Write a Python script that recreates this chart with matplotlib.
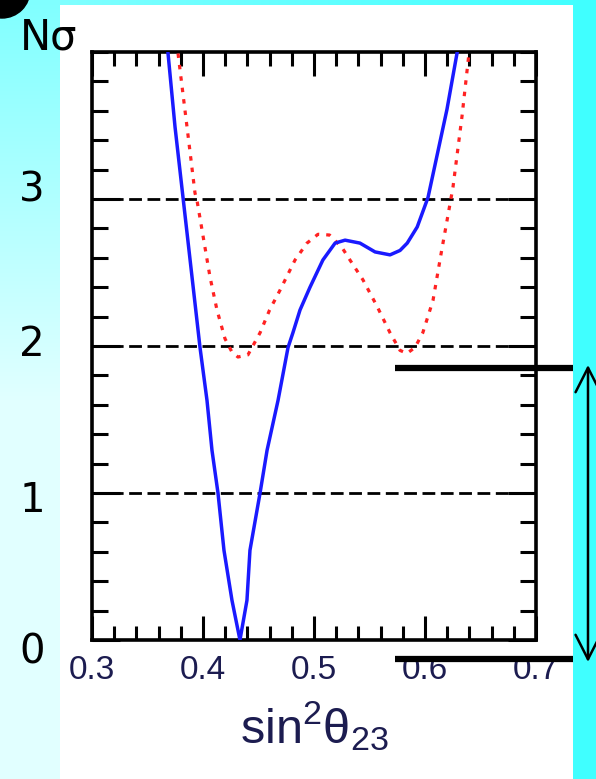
import numpy as np
import matplotlib
matplotlib.use('Agg')
import matplotlib.pyplot as plt
from matplotlib.patches import Circle
import matplotlib.transforms as mtrans

# ---- data ----
blue_x = [0.3685, 0.3748, 0.382, 0.3973, 0.4036, 0.4081, 0.4135, 0.4189, 0.4261, 0.4333,
          0.4396, 0.4423, 0.4514, 0.4577, 0.4676, 0.4766, 0.481, 0.4874, 0.4964, 0.508,
          0.519, 0.528, 0.5414, 0.555, 0.5685, 0.5775, 0.584, 0.593, 0.6027, 0.6198, 0.6288]
blue_y = [3.99, 3.49, 3.01, 1.99, 1.63, 1.29, 1.0, 0.61, 0.27, 0.0,
          0.27, 0.61, 1.0, 1.29, 1.63, 1.99, 2.09, 2.245, 2.40, 2.585,
          2.70, 2.72, 2.70, 2.64, 2.62, 2.65, 2.70, 2.81, 3.01, 3.61, 3.99]
red_x = [0.3775, 0.3856, 0.3928, 0.3946, 0.4063, 0.4126, 0.4198, 0.426, 0.4315, 0.4405,
         0.4514, 0.460, 0.4694, 0.4829, 0.4937, 0.5036, 0.514, 0.5252, 0.5324, 0.5441,
         0.5568, 0.5685, 0.5775, 0.5838, 0.591, 0.598, 0.6072, 0.615, 0.620, 0.6252,
         0.6333, 0.6396]
red_y = [3.99, 3.49, 3.04, 2.99, 2.47, 2.245, 2.05, 1.96, 1.925, 1.94,
         2.09, 2.245, 2.38, 2.585, 2.70, 2.76, 2.755, 2.67, 2.585, 2.45,
         2.27, 2.09, 1.97, 1.95, 1.99, 2.09, 2.31, 2.65, 2.86, 3.08,
         3.56, 3.99]
ref_levels = [1, 2, 3]
xticks = [0.3, 0.4, 0.5, 0.6, 0.7]
xtick_labels = ['0.3', '0.4', '0.5', '0.6', '0.7']
yticks = [0, 1, 2, 3]
ytick_labels = ['0', '1', '2', '3']
band_levels = [1.85, -0.13]
band_x = [0.573, 0.7333]

plt.rcParams['mathtext.fontset'] = 'custom'
plt.rcParams['mathtext.rm'] = 'Liberation Sans'
plt.rcParams['mathtext.it'] = 'Liberation Sans:italic'

W, H = 596, 779
fig = plt.figure(figsize=(W / 100, H / 100), dpi=100)

# ---- background ----
bg = fig.add_axes([0, 0, 1, 1], zorder=-10)
img = np.ones((H, W, 3))
yy = np.arange(H)[:, None]
r_left = np.clip(128 + (225 - 128) * yy / 400.0, 128, 225) / 255.0
img[:, :60, 0] = r_left
img[:5, 60:, 0] = (np.linspace(128, 64, W - 60) / 255.0)[None, :]
img[:, 573:, 0] = 64 / 255.0
bg.imshow(img, extent=[0, W, H, 0], aspect='auto', interpolation='nearest')
bg.set_xlim(0, W)
bg.set_ylim(H, 0)
bg.axis('off')
bg.add_patch(Circle((2, -10), 28, color='black'))
bg.annotate('', xy=(588, 365), xytext=(588, 662),
            arrowprops=dict(arrowstyle='<->,head_length=0.55,head_width=0.28',
                            lw=1.8, color='black',
                            mutation_scale=32, shrinkA=0, shrinkB=0))
fig.text(20 / W, 1 - 50 / H, 'N\u03c3', fontsize=30, family='DejaVu Sans',
         va='baseline', ha='left', color='black')

# ---- main axes ----
ax = fig.add_axes([92 / W, 1 - 640 / H, 444 / W, 588 / H])
ax.set_facecolor('white')
ax.set_xlim(0.3, 0.7)
ax.set_ylim(0, 4)

for lv in ref_levels:
    ax.axhline(lv, color='black', lw=2.0, dashes=(4.6, 2.0), zorder=2)

ax.plot(red_x, red_y, color='#ff2222', lw=2.3, dashes=(1.4, 2.2), zorder=3)
ax.plot(blue_x, blue_y, color='#1a1aff', lw=2.5, zorder=4)

for lv in band_levels:
    ax.plot(band_x, [lv, lv], color='black', lw=4.5, solid_capstyle='butt',
            clip_on=False, zorder=10)

for s in ax.spines.values():
    s.set_linewidth(2.6)

ax.set_xticks(xticks, xtick_labels)
ax.set_xticks(np.arange(0.3, 0.7001, 0.02), minor=True)
ax.set_yticks(yticks, ytick_labels)
ax.set_yticks(np.arange(0, 4.001, 0.2), minor=True)
ax.tick_params(axis='x', which='major', direction='in', length=17, width=2.2,
               top=True, pad=11, labelsize=24, labelcolor='#1c1c50')
ax.tick_params(axis='x', which='minor', direction='in', length=10, width=2.2, top=True)
ax.tick_params(axis='y', which='major', direction='in', length=20, width=2.2,
               right=True, pad=36, labelsize=29)
ax.tick_params(axis='y', which='minor', direction='in', length=11.5, width=2.2, right=True)
for lab in ax.get_xticklabels():
    lab.set_family('Liberation Sans')
for lab in ax.get_yticklabels():
    lab.set_family('DejaVu Sans')
    lab.set_horizontalalignment('center')
y_off = {'0': -8, '1': -3, '2': 5, '3': 13}
for lab, t in zip(ax.get_yticklabels(), ytick_labels):
    lab.set_transform(lab.get_transform() +
                      mtrans.ScaledTranslation(-0.10, y_off[t] / 100.0, fig.dpi_scale_trans))

ax.set_xlabel(r'$\mathrm{sin^2\theta_{23}}$', fontsize=35, color='#1c1c50', va='baseline')
ax.xaxis.set_label_coords(0.5, -(743 - 640) / 588)

fig.savefig('out.png', dpi=100)
